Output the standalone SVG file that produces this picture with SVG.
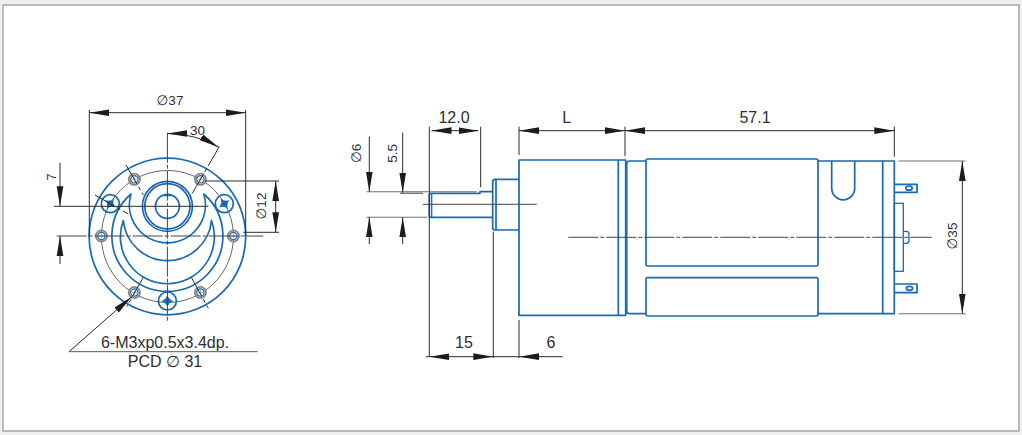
<svg xmlns="http://www.w3.org/2000/svg" width="1022" height="435" viewBox="0 0 1022 435">
<style>
text{font-family:"Liberation Sans","DejaVu Sans",sans-serif;fill:#2f2f2f;text-anchor:middle}
.t15{font-size:16px}.t13{font-size:13.5px}.t16{font-size:16px}
.b{fill:none;stroke:#1a69b4;stroke-width:1.7;stroke-linejoin:round}
.b2{fill:none;stroke:#1a69b4;stroke-width:1.3}
.d{fill:none;stroke:#2c2c2c;stroke-width:1}
.g{fill:none;stroke:#707070;stroke-width:1.1}
.c{fill:none;stroke:#444;stroke-width:1;stroke-dasharray:30 2 4 2}
.a{marker-end:url(#ah)}.aa{marker-start:url(#ah);marker-end:url(#ah)}
</style>
<defs>
<marker id="ah" markerUnits="userSpaceOnUse" markerWidth="20" markerHeight="8" viewBox="0 0 18 7.2" refX="18" refY="3.6" orient="auto-start-reverse"><path d="M0,.6L18,3.6L0,6.6Z" fill="#1c1c1c"/></marker>
<path id="star" d="M0,-6.5Q1.2,-1.2 6.5,0Q1.2,1.2 0,6.5Q-1.2,1.2 -6.5,0Q-1.2,-1.2 0,-6.5Z" fill="#1a69b4"/>
<g id="hole"><circle r="5.6" fill="none" stroke="#858585" stroke-width="1.8"/><circle r="3.7" fill="#fff" stroke="#1a69b4" stroke-width="1.2"/><path d="M-2.5,0H2.5M0,-2.5V2.5" stroke="#777" stroke-width=".6"/></g>
</defs>
<rect width="1022" height="435" fill="#f0f0f0"/>
<rect x="3" y="5" width="1016" height="426" fill="#fff" stroke="#a6a6a6" stroke-width="1.5"/>

<g id="front-view">
<circle cx="167.4" cy="236.5" r="78.3" class="b"/>
<circle cx="167.4" cy="236.5" r="66" fill="none" stroke="#666" stroke-width="1"/>
<path class="b" d="M131,194A55.5,55.5 0 1 0 203.8,194A38,38 0 1 1 131,194Z"/>
<path class="b" d="M123.3,220.5A47,47 0 1 0 211.5,220.5A44.3,44.3 0 0 1 123.3,220.5Z"/>
<circle cx="167.4" cy="206.3" r="25" class="b"/>
<circle cx="167.4" cy="206.3" r="22.6" class="b"/>
<circle cx="167.4" cy="206.3" r="12" class="b"/>
<path d="M161,196.2Q167.4,193 173.8,196.2Z" fill="#1a69b4"/>
<use href="#hole" x="101.4" y="236"/><use href="#hole" x="233.4" y="236"/>
<use href="#hole" x="134.4" y="179.3"/><use href="#hole" x="200.4" y="179.3"/>
<use href="#hole" x="134.4" y="292.5"/><use href="#hole" x="200.4" y="292.5"/>
<circle cx="110.3" cy="203.7" r="9" class="b"/><use href="#star" transform="translate(110.3 203.7) rotate(35)"/>
<circle cx="224.3" cy="203.7" r="9" class="b"/><use href="#star" transform="translate(224.3 203.7) rotate(-35)"/>
<circle cx="167.4" cy="301" r="9" class="b"/><use href="#star" transform="translate(167.4 301)"/>
</g>

<g id="gearbox">
<path class="b" d="M431,193.3H480V191.7H492.7M431,193.3Q429.3,193.3 429.3,195V215.5Q429.3,217.3 431,217.3H492.7"/>
<path class="b2" d="M431.7,193.3V217.3"/>
<path class="b" d="M495,179.3Q492.7,179.3 492.7,181.5V227.8Q492.7,230 495,230H519M495,179.3H519M496,179.3V230"/>
<rect x="519" y="160" width="106.7" height="155.3" class="b"/>
<path class="b" d="M618.3,160V315.3"/>
</g>

<g id="motor">
<path class="b" d="M646,161H629.5Q626.7,161 626.7,164V310.7Q626.7,313.7 629.5,313.7H646M818,161H894.3V313.7H818"/>
<path class="b" d="M882.7,161V313.7"/>
<rect x="646" y="159" width="172" height="107" rx="1.5" class="b"/>
<rect x="646" y="277.7" width="172" height="38.3" rx="1.5" class="b"/>
<path class="b" d="M831.7,161V188.3A11.5,11.5 0 0 0 854.7,188.3V161"/>
<rect x="894.3" y="203.3" width="9" height="68" class="b2"/>
<path class="b2" d="M903.3,231.3H906.5Q909,231.3 909,234V240.5Q909,243.3 906.5,243.3H903.3"/>
<path class="b" d="M894.3,184.3H917V192.3H894.3"/>
<ellipse cx="909" cy="188.2" rx="3.2" ry="2" class="b"/>
<path class="b" d="M894.3,284H917V292.7H894.3"/>
<ellipse cx="909.5" cy="288.3" rx="3.2" ry="2" class="b"/>
</g>

<g id="connectors">
<path class="c" d="M56.7,236H263.3M167.4,132.7V322.3"/>
<path class="d" d="M54,206.3H208.3"/>
<path class="d" stroke-dasharray="22 3 4 3" d="M219.3,146.7L190,197.3M126,165L143.3,195M143.3,277.3L126.7,306.7M191.3,277.3L208.3,308.3M95,195L128.3,214"/>
<path class="d" d="M89.3,110V236M245.7,110V236M205,181H279M243.3,232.3H279"/>
<path class="d aa" d="M89.3,112.7H245.7"/>
<path class="d aa" d="M275.7,181V232.3"/>
<path class="d a" d="M60,162.7V206.3"/><path class="d a" d="M60,264V236"/>
<path class="d aa" d="M167.4,133.5A103,103 0 0 1 218.8,147.3"/>
<path class="d a" d="M69,351.7L131.7,296.7"/>
<path class="d" style="stroke:#555" d="M69,351.7H257.7"/>
<path class="d" d="M429.3,126.7V356.7M480.7,126.7V187.3M519,126.7V155M625,126.7V156M894.3,126.7V156.7"/>
<path class="d aa" d="M431.5,130.7H478.5"/><path class="d aa" d="M519,130.7H625"/><path class="d aa" d="M625,130.7H894.3"/>
<path class="g" d="M366.7,191.7H476.7M366.7,217.3H427.3"/>
<path d="M400,193.3H423" stroke="#777" stroke-width="1.5" fill="none"/>
<path class="d a" d="M369.3,136.7V191.7"/><path class="d a" d="M369.3,244V217.3"/>
<path class="d a" d="M402.7,132.7V192.7"/><path class="d a" d="M402.7,244V217.3"/>
<path class="c" style="stroke-dasharray:none" d="M422.7,204.3H536.7"/>
<path class="c" d="M568.3,237.3H931.7"/>
<path class="d" d="M493.3,231.7V358M519,320V358M426,356.7H429.3M493.3,356.7H519"/>
<path class="d aa" d="M429.3,356.7H493.3"/>
<path class="d a" d="M562.7,356.7H519"/>
<path class="g" d="M898.3,161H965.7M898.3,313.7H965.7"/>
<path class="d aa" d="M962.3,161V313.7"/>
</g>

<g id="labels">
<text x="170" y="105" class="t13">∅37</text>
<text x="197.5" y="135" class="t13">30</text>
<text transform="translate(55.5 177) rotate(-90)" class="t13">7</text>
<text transform="translate(266 206) rotate(-90)" class="t13">∅12</text>
<text x="165" y="348" class="t16">6-M3xp0.5x3.4dp.</text>
<text x="165" y="367" class="t16">PCD ∅ 31</text>
<text x="454" y="122.5" class="t15">12.0</text>
<text x="566.7" y="122.5" class="t15">L</text>
<text x="755" y="122.5" class="t15">57.1</text>
<text transform="translate(361 153.3) rotate(-90)" class="t13">∅6</text>
<text transform="translate(397 153.3) rotate(-90)" class="t13">5.5</text>
<text x="464" y="348" class="t15">15</text>
<text x="551" y="348" class="t15">6</text>
<text transform="translate(956.5 236) rotate(-90)" class="t13">∅35</text>
</g>
</svg>
